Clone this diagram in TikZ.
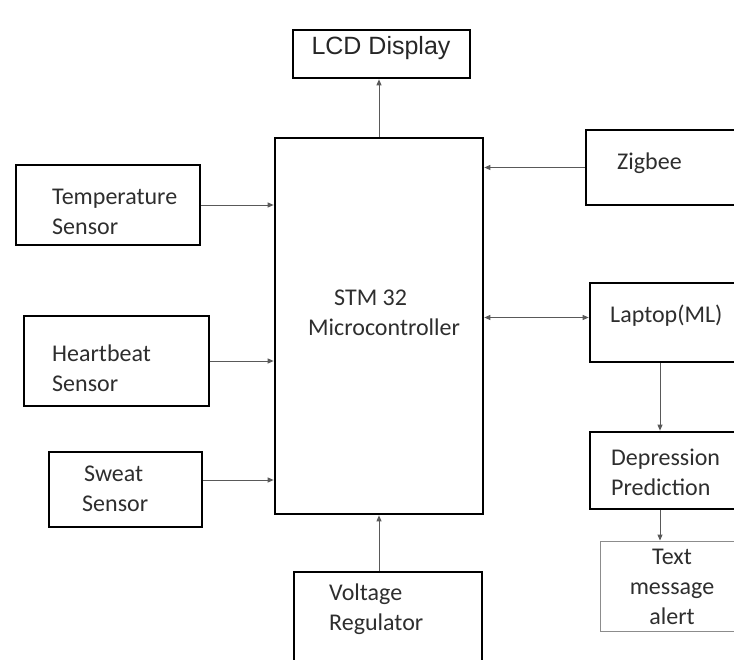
\documentclass[tikz,border=0pt]{standalone}
\usepackage{fontspec}
\setmainfont{Carlito}
\newfontfamily\lcdfont{Liberation Sans}
\usetikzlibrary{arrows.meta,positioning,calc}
\tikzset{
  blk/.style={draw, line width=2.7pt, rectangle, inner sep=0pt},
  thinblk/.style={draw=black!45, line width=0.9pt, rectangle, inner sep=0pt},
  lbl/.style={font=\fontsize{24}{30}\selectfont, text=black!82, align=left, inner sep=0pt, anchor=west},
  arr/.style={-{Triangle[length=6pt,width=5pt]}, line width=0.9pt, black!65},
  darr/.style={{Triangle[length=6pt,width=5pt]}-{Triangle[length=6pt,width=5pt]}, line width=0.9pt, black!65},
}

\begin{document}
\begin{tikzpicture}[x=1pt,y=-1pt]
\useasboundingbox (0,0) rectangle (734,660);
\clip (0,0) rectangle (734,660);
% centre
\node[blk, minimum width=208, minimum height=376] (mcu) at (379,326) {};
\node[lbl] (mcut) at (308,313) {\hspace*{26pt}STM 32\\Microcontroller};
\node[blk, minimum width=177, minimum height=48] (lcd) at (381.5,54) {};
\node[font=\lcdfont\fontsize{25}{30}\selectfont, text=black!85, inner sep=0pt] (lcdt) at (381,48) {LCD Display};
% sensors
\node[blk, minimum width=184, minimum height=80] (temp) at (108,205) {};
\node[lbl] (tempt) at (52,212) {Temperature\\Sensor};
\node[blk, minimum width=185, minimum height=90] (heart) at (116.5,361) {};
\node[lbl] (heartt) at (52,368) {Heartbeat\\Sensor};
\node[blk, minimum width=153, minimum height=75] (sweat) at (125.5,489.5) {};
\node[lbl] (sweatt) at (82,489) {\hspace*{2pt}Sweat\\Sensor};
% right side
\node[blk, minimum width=174, minimum height=75] (zig) at (673,167.5) {};
\node[lbl] (zigt) at (617,163) {Zigbee};
\node[blk, minimum width=170, minimum height=79] (laptop) at (675,322.5) {};
\node[lbl] (laptopt) at (610,316) {Laptop(ML)};
\node[blk, minimum width=170, minimum height=77] (depr) at (675,470.5) {};
\node[lbl] (deprt) at (611,472) {Depression\\Prediction};
\node[thinblk, minimum width=160, minimum height=90] (alert) at (680,586) {};
\node[lbl, align=center, anchor=center] (alertt) at (672,587) {Text\\message\\alert};
% supply
\node[blk, minimum width=188, minimum height=128] (volt) at (388,636) {};
\node[lbl] (voltt) at (329,609) {Voltage\\Regulator};
% connectors
\coordinate (sweatout) at ([yshift=9.5pt]sweat.east);
\coordinate (lapin) at ([yshift=5pt]laptop.west);
\coordinate (lapout) at ([xshift=-15pt]laptop.south);
\draw[arr] (mcu.north) -- (mcu.north |- lcd.south);
\draw[arr] (temp.east) -- (temp.east -| mcu.west);
\draw[arr] (heart.east) -- (heart.east -| mcu.west);
\draw[arr] (sweatout) -- (sweatout -| mcu.west);
\draw[arr] (zig.west) -- (zig.west -| mcu.east);
\draw[darr] (lapin -| mcu.east) -- (lapin);
\draw[arr] (lapout) -- (lapout |- depr.north);
\draw[arr] (lapout |- depr.south) -- (lapout |- alert.north);
\draw[arr] (volt.north -| mcu.south) -- (mcu.south);
\end{tikzpicture}
\end{document}
